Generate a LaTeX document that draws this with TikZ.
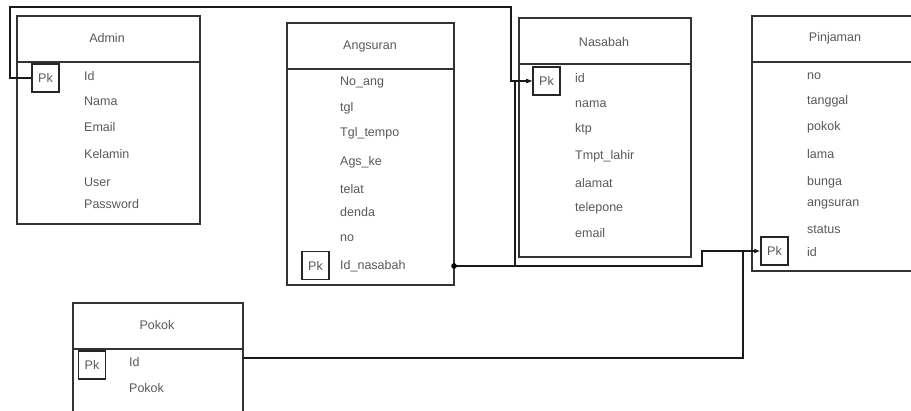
\documentclass[tikz,border=0pt]{standalone}
\usepackage{fontspec}
\setmainfont{Liberation Sans}
\usetikzlibrary{arrows.meta}
\begin{document}
\begin{tikzpicture}[x=1pt,y=-1pt,
  ent/.style={draw=black!80,line width=1.5pt,fill=white},
  hdr/.style={draw=black!80,line width=1.5pt},
  ttl/.style={font=\fontsize{12.5}{14}\selectfont,text=black!65,inner sep=0pt},
  fld/.style={font=\fontsize{12.5}{14}\selectfont,text=black!65,inner sep=0pt,anchor=west},
  pkbox/.style={draw=black!85,line width=1.5pt,minimum width=27pt,minimum height=28pt,inner sep=0pt,font=\fontsize{12.5}{14}\selectfont,text=black!65},
  conn/.style={draw=black!90,line width=1.6pt},
  arr/.style={conn,-{Latex[length=6pt,width=5pt]}}
]
\useasboundingbox (0,0) rectangle (911,410);
\fill[white] (0,0) rectangle (911,410);

% ---------- Admin ----------
\draw[ent] (17,16) rectangle (200,224);
\draw[hdr] (17,62) -- (200,62);
\node[ttl] (adminT) at (107,38) {Admin};
\node[pkbox] (apk) at (45.5,78) {Pk};
\foreach \t/\y/\n in {Id/76/a1,Nama/101/a2,Email/127/a3,Kelamin/154/a4,User/182/a5,Password/204/a6}
  \node[fld] (\n) at (84,\y) {\t};

% ---------- Angsuran ----------
\draw[ent] (287,23) rectangle (454,285);
\draw[hdr] (287,69) -- (454,69);
\node[ttl] (angsT) at (370,46) {Angsuran};
\node[pkbox] (gpk) at (315.5,265.5) {Pk};
\foreach \t/\y/\n in {No\_ang/82/g1,tgl/108/g2,Tgl\_tempo/133/g3,Ags\_ke/162/g4,telat/189/g5,denda/212/g6,no/238/g7,Id\_nasabah/266/g8}
  \node[fld] (\n) at (340,\y) {\t};

% ---------- Nasabah ----------
\draw[ent] (519,18) rectangle (691,257);
\draw[hdr] (519,64) -- (691,64);
\node[ttl] (nasT) at (604,42) {Nasabah};
\node[pkbox] (npk) at (546.5,81) {Pk};
\foreach \t/\y/\n in {id/78/n1,nama/104/n2,ktp/129/n3,Tmpt\_lahir/156/n4,alamat/183/n5,telepone/208/n6,email/233/n7}
  \node[fld] (\n) at (575,\y) {\t};

% ---------- Pinjaman ----------
\draw[ent] (752,16) rectangle (918,271);
\draw[hdr] (752,62) -- (918,62);
\node[ttl] (pinT) at (835,38) {Pinjaman};
\node[pkbox] (ppk) at (774.5,251) {Pk};
\foreach \t/\y/\n in {no/76/p1,tanggal/101/p2,pokok/127/p3,lama/154/p4,bunga/182/p5,angsuran/204/p6,status/230/p7,id/252/p8}
  \node[fld] (\n) at (807,\y) {\t};

% ---------- Pokok ----------
\draw[ent] (73,303) rectangle (243,420);
\draw[hdr] (73,349) -- (243,349);
\node[ttl] (pokT) at (157,325) {Pokok};
\node[pkbox] (kpk) at (92,365) {Pk};
\foreach \t/\y/\n in {Id/362/k1,Pokok/388/k2}
  \node[fld] (\n) at (129,\y) {\t};

% ---------- connectors ----------
\coordinate (dotA) at (454,266);
\coordinate (pokR) at (243,358);
\draw[arr] (apk.west) -| (10,7) -| ([xshift=-21pt]npk.west) -- (npk.west);
\draw[arr] (dotA) -| ([xshift=-17pt]npk.west) -- (npk.west);
\draw[arr] (dotA) -- (702,266) |- (ppk.west);
\draw[conn] (pokR) -| ([xshift=-17pt]ppk.west);
\fill[black] (dotA) circle (2.8pt);
\end{tikzpicture}
\end{document}
